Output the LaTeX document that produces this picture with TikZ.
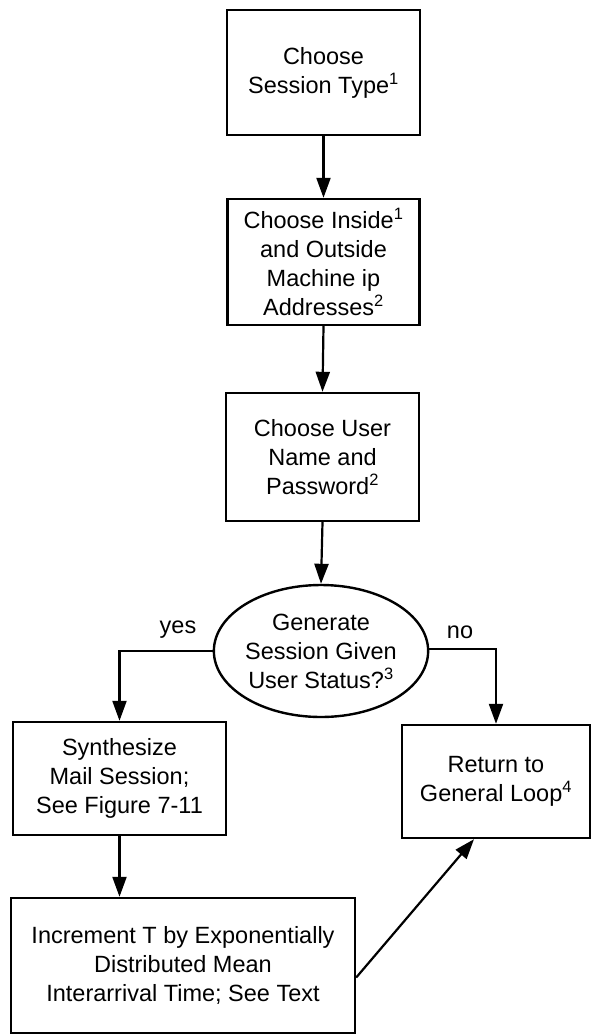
\documentclass[tikz,border=0pt]{standalone}
\usepackage{fontspec}
\setmainfont{Liberation Sans}
\usetikzlibrary{arrows.meta,shapes.geometric}
\begin{document}
\begin{tikzpicture}[x=1pt,y=-1pt,
  every node/.style={font=\fontsize{23.5}{29}\selectfont, align=center, inner sep=0pt},
  stepbox/.style={draw, fill=white, line width=2.4pt, rectangle},
  decision/.style={draw, fill=white, line width=2.4pt, ellipse},
  flow/.style={line width=2.2pt, -{Triangle[length=20pt,width=14pt]}},
  lbl/.style={font=\fontsize{23.5}{29}\selectfont}]
\useasboundingbox (0,0) rectangle (592,1034);

% process boxes of the session generator
\node[stepbox, minimum width=193pt, minimum height=125pt] (b1) at (323.5,72.5)
  {Choose\\Session Type\textsuperscript{1}};
\node[stepbox, minimum width=192pt, minimum height=126pt] (b2) at (323.5,262)
  {Choose Inside\textsuperscript{1}\\and Outside\\Machine ip\\Addresses\textsuperscript{2}};
\node[stepbox, minimum width=193pt, minimum height=128pt] (b3) at (322.5,457)
  {Choose User\\Name and\\Password\textsuperscript{2}};
\node[decision, minimum width=198pt, minimum height=132pt] (d) at (321,651)
  {Generate\\Session Given\\User Status?\textsuperscript{3}};
\node[stepbox, minimum width=213pt, minimum height=113pt] (b4) at (119.5,778.5)
  {Synthesize\\Mail Session;\\See Figure 7-11};
\node[stepbox, minimum width=188pt, minimum height=113pt] (b5) at (496,781.5)
  {Return to\\General Loop\textsuperscript{4}};
\node[stepbox, minimum width=344pt, minimum height=135pt] (b6) at (183,965.5)
  {Increment T by Exponentially\\Distributed Mean\\Interarrival Time; See Text};

% branch labels
\node[lbl] (yes) at (178,630) {yes};
\node[lbl] (no) at (460,632) {no};

% connectors
\draw[flow] (b1.south) -- (b2.north);
\draw[flow] (b2.south) -- (b3.north);
\draw[flow] (b3.south) -- (d.north);
\draw[flow] (d.west) -| (b4.north);
\draw[flow] ([yshift=2]d.east) -| (b5.north);
\draw[flow] (b4.south) -- (b6.north -| b4.south);
\draw[flow] ([yshift=-12]b6.east) -- ([xshift=-22]b5.south);
\end{tikzpicture}
\end{document}
